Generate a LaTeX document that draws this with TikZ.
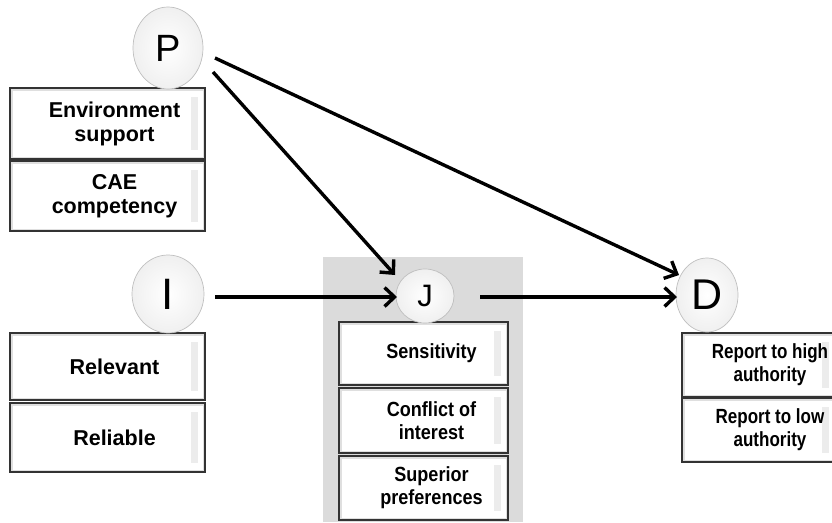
\documentclass[tikz,border=0pt]{standalone}
\usepackage{fontspec}
\setmainfont{Liberation Sans}
\newfontfamily\condfont{Liberation Sans}[FakeStretch=0.88]
\newfontfamily\rcondfont{Liberation Sans}[FakeStretch=0.83]
\usetikzlibrary{shapes.geometric,arrows.meta,calc}
\tikzset{
  boxst/.style={draw=black!80, line width=1.6pt, fill=white, rectangle, inner sep=0pt,
    path picture={
      \draw[gray!25, line width=5pt] (path picture bounding box.south west) rectangle (path picture bounding box.north east);
      \fill[gray!15] ([xshift=-14pt,yshift=-9pt]path picture bounding box.north east) rectangle ([xshift=-7pt,yshift=9pt]path picture bounding box.south east);
    }},
  boxtext/.style={font=\fontsize{21.5}{24}\selectfont\bfseries, align=center},
  midtext/.style={font=\condfont\fontsize{20.5}{23}\selectfont\bfseries, align=center},
  rtext/.style={font=\rcondfont\fontsize{20.5}{23}\selectfont\bfseries, align=center},
  circ/.style={ellipse, draw=gray!50, line width=0.7pt, inner color=white, outer color=gray!12, inner sep=0pt},
  conn/.style={line width=3.4pt, -{Straight Barb[length=10pt,width=19pt]}}
}
\begin{document}
\begin{tikzpicture}[x=1pt,y=-1pt]
\useasboundingbox (0,0) rectangle (832,522);
% gray panel behind J
\fill[gray!28] (323,257) rectangle (523,522);
% left top group
\node[boxst, minimum width=195pt, minimum height=71pt, label={[boxtext,xshift=7pt]center:{Environment\\support}}] (env) at (107.5,123.5) {};
\node[boxst, minimum width=195pt, minimum height=70pt, label={[boxtext,xshift=7pt]center:{CAE\\competency}}] (cae) at (107.5,196) {};
\node[circ, minimum width=70pt, minimum height=82pt, font=\fontsize{38}{40}\selectfont] (P) at (168,48) {P};
% left bottom group
\node[boxst, minimum width=195pt, minimum height=67pt, label={[boxtext,xshift=7pt]center:{Relevant}}] (rel) at (107.5,366.5) {};
\node[boxst, minimum width=195pt, minimum height=69pt, label={[boxtext,xshift=7pt]center:{Reliable}}] (reli) at (107.5,437.5) {};
\node[circ, minimum width=72pt, minimum height=78pt, font=\fontsize{44}{46}\selectfont] (I) at (168,294) {I};
% middle group
\node[boxst, minimum width=169pt, minimum height=63pt, label={[midtext,xshift=8pt]center:{Sensitivity}}] (sens) at (423.5,353.5) {};
\node[boxst, minimum width=169pt, minimum height=65pt, label={[midtext,xshift=8pt]center:{Conflict of\\interest}}] (conf) at (423.5,420.5) {};
\node[boxst, minimum width=169pt, minimum height=64pt, label={[midtext,xshift=8pt]center:{Superior\\preferences}}] (sup) at (423.5,488) {};
\node[circ, minimum width=58pt, minimum height=54pt, font=\fontsize{31}{33}\selectfont] (J) at (425,296) {J};
% right group
\node[boxst, minimum width=154pt, minimum height=64pt, label={[rtext,xshift=11pt]center:{Report to high\\authority}}] (high) at (759,365) {};
\node[boxst, minimum width=154pt, minimum height=64pt, label={[rtext,xshift=11pt]center:{Report to low\\authority}}] (low) at (759,430) {};
\node[circ, minimum width=62pt, minimum height=74pt, font=\fontsize{43}{45}\selectfont] (D) at (707,295) {D};
% connectors
\draw[conn] ($(P)+(45,24)$) -- ($(J)+(-30,-21)$);
\draw[conn] ($(P)+(47,10)$) -- ($(D)+(-28,-20)$);
\draw[conn] ($(I)+(47,3)$) -- ($(J)+(-28,1)$);
\draw[conn] ($(J)+(55,1)$) -- ($(D)+(-30,2)$);
\end{tikzpicture}
\end{document}
